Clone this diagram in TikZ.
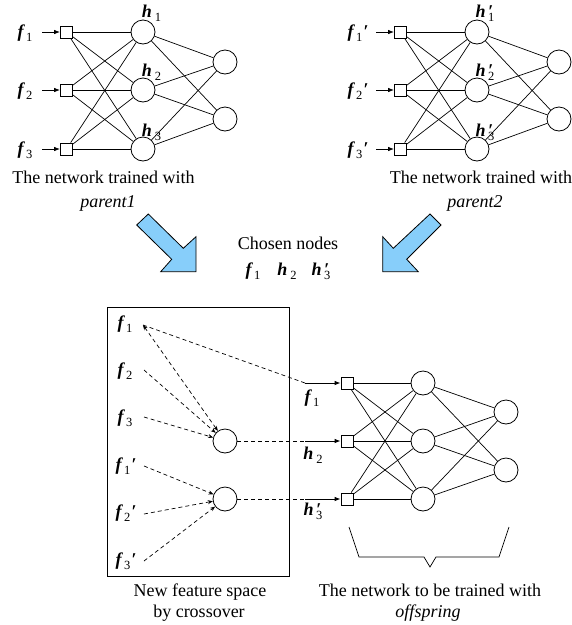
\documentclass[tikz,border=0pt]{standalone}
\usepackage{fontspec}
\setmainfont{Liberation Serif}
\usetikzlibrary{arrows.meta}
\newcommand\sfz[1]{{\fontsize{12.5}{12.5}\selectfont #1}}
\newcommand\Fv[1]{\textbf{\textit{f}}\kern1pt\raisebox{-0.5ex}{\sfz{#1}}}
\newcommand\Fp[1]{\Fv{#1}\kern1pt\textbf{\textit{′}}}
\newcommand\Hv[1]{\textbf{\textit{h}}\kern3pt\raisebox{-0.5ex}{\sfz{#1}}}
\newcommand\Hp[1]{\textbf{\textit{h}}\kern2.5pt\rlap{\textbf{\textit{′}}}\raisebox{-0.5ex}{\sfz{#1}}}
\tikzset{
  sq/.style={draw, rectangle, minimum size=12pt, inner sep=0pt, line width=0.8pt},
  neu/.style={draw, circle, minimum size=24pt, inner sep=0pt, line width=0.8pt},
  lbl/.style={font=\fontsize{18}{21}\selectfont, inner sep=0pt},
  txt/.style={lbl, anchor=base},
  edge/.style={line width=0.7pt},
  inarr/.style={line width=0.8pt, -{Latex[length=6pt,width=4.5pt]}},
  dsh/.style={line width=0.7pt, dash pattern=on 4pt off 3pt},
  dtip/.style={dsh, -{Stealth[length=5pt,width=4pt]}},
  bluearr/.style={draw=black, line width=0.8pt, fill={rgb,255:red,135;green,206;blue,250}, line join=miter},
}
\begin{document}
\begin{tikzpicture}[x=1pt,y=-1pt]
\useasboundingbox (0,0) rectangle (572,625);

% ---------- left network (parent1)
\foreach \i/\y in {1/32,2/90,3/149}{
  \node[sq] (Ls\i) at (66.5,\y) {};
  \node[neu] (Lh\i) at (143,\y) {};
  \coordinate (La\i) at (42,\y);
}
\node[neu] (Lo1) at (225,62) {};
\node[neu] (Lo2) at (225,119) {};
\foreach \i in {1,2,3}{
  \foreach \j in {1,2,3}{\draw[edge] (Ls\i) -- (Lh\j);}
  \foreach \k in {1,2}{\draw[edge] (Lh\i) -- (Lo\k);}
  \draw[inarr] (La\i) -- (Ls\i);
}
\node[lbl] (Lf1) at (25,33) {\Fv{1}};
\node[lbl] (Lf2) at (25,91) {\Fv{2}};
\node[lbl] (Lf3) at (25,150) {\Fv{3}};
\node[lbl] (Lhl1) at (151.5,13) {\Hv{1}};
\node[lbl] (Lhl2) at (151.5,72) {\Hv{2}};
\node[lbl] (Lhl3) at (151.5,132) {\Hv{3}};
\node[lbl] (Lt1) at (103.5,177) {The network trained with};
\node[lbl] (Lt2) at (108,203) {\textit{parent1}};

% ---------- right network (parent2)
\foreach \i/\y in {1/32,2/90,3/149}{
  \node[sq] (Rs\i) at (400.5,\y) {};
  \node[neu] (Rh\i) at (477,\y) {};
  \coordinate (Ra\i) at (376,\y);
}
\node[neu] (Ro1) at (559,62) {};
\node[neu] (Ro2) at (559,119) {};
\foreach \i in {1,2,3}{
  \foreach \j in {1,2,3}{\draw[edge] (Rs\i) -- (Rh\j);}
  \foreach \k in {1,2}{\draw[edge] (Rh\i) -- (Ro\k);}
  \draw[inarr] (Ra\i) -- (Rs\i);
}
\node[lbl] (Rf1) at (358,33) {\Fp{1}};
\node[lbl] (Rf2) at (358,91) {\Fp{2}};
\node[lbl] (Rf3) at (358,150) {\Fp{3}};
\node[lbl] (Rhl1) at (485,13) {\Hp{1}};
\node[lbl] (Rhl2) at (485,72) {\Hp{2}};
\node[lbl] (Rhl3) at (485,132) {\Hp{3}};
\node[lbl] (Rt1) at (481,177) {The network trained with};
\node[lbl] (Rt2) at (475,203) {\textit{parent2}};

% ---------- blue arrows
\draw[bluearr] (148.3,214) -- (183.3,248.3) -- (196,236.7) -- (196,271.7) -- (160.7,271.7) -- (171.7,259.3) -- (136.7,225) -- cycle;
\draw[bluearr] (430,214) -- (441,225) -- (406.7,259.3) -- (418.3,271.7) -- (382.7,271.7) -- (382.7,236.7) -- (393.3,248.3) -- cycle;

% ---------- chosen nodes
\node[lbl] (cn) at (288,243) {Chosen nodes};
\node[lbl] (cf1) at (253,271) {\Fv{1}};
\node[lbl] (ch2) at (287,271) {\Hv{2}};
\node[lbl] (ch3) at (321,271) {\Hp{3}};

% ---------- new feature space box
\node[draw, line width=0.8pt, minimum width=182pt, minimum height=269pt, inner sep=0pt] (box) at (198,441.5) {};
\node[lbl] (b1) at (125,324) {\Fv{1}};
\node[lbl] (b2) at (125,371) {\Fv{2}};
\node[lbl] (b3) at (125,418) {\Fv{3}};
\node[lbl] (b4) at (126,466) {\Fp{1}};
\node[lbl] (b5) at (126,513) {\Fp{2}};
\node[lbl] (b6) at (126,561) {\Fp{3}};
\coordinate (d1) at (143,325);
\coordinate (d2) at (144,370);
\coordinate (d3) at (144,417);
\coordinate (d4) at (144,466);
\coordinate (d5) at (144,514);
\coordinate (d6) at (144,561);
\node[neu] (C1) at (225,441) {};
\node[neu] (C2) at (225,499) {};
\draw[dsh, {Stealth[length=5pt,width=4pt]}-{Stealth[length=5pt,width=4pt]}] (d1) -- (C1);
\draw[dtip] (d2) -- (C1);
\draw[dtip] (d3) -- (C1);
\draw[dtip] (d4) -- (C2);
\draw[dtip] (d5) -- (C2);
\draw[dtip] (d6) -- (C2);
\node[txt] (bt1) at (200,596) {New feature space};
\node[txt] (bt2) at (199,617) {by crossover};

% ---------- offspring network
\foreach \i/\y in {1/383,2/441,3/499}{
  \node[sq] (Os\i) at (347,\y) {};
  \node[neu] (Oh\i) at (423,\y) {};
  \coordinate (J\i) at (305,\y);
}
\node[neu] (Oo1) at (506,412) {};
\node[neu] (Oo2) at (506,470) {};
\foreach \i in {1,2,3}{
  \foreach \j in {1,2,3}{\draw[edge] (Os\i) -- (Oh\j);}
  \foreach \k in {1,2}{\draw[edge] (Oh\i) -- (Oo\k);}
  \draw[inarr] (J\i) -- (Os\i);
}
\draw[dsh] (d1) -- (J1);
\draw[dsh] (C1) -- (J2);
\draw[dsh] (C2) -- (J3);
\node[lbl] (of1) at (312,398) {\Fv{1}};
\node[lbl] (oh2) at (313,455) {\Hv{2}};
\node[lbl] (oh3) at (313,511) {\Hp{3}};
\draw[edge] (349,527) -- (359,557) -- (424,557) -- (430,567) -- (436,557) -- (499,557) -- (509,527);
\node[txt] (ot1) at (430,596) {The network to be trained with};
\node[txt] (ot2) at (428,617) {\textit{offspring}};
\end{tikzpicture}
\end{document}
